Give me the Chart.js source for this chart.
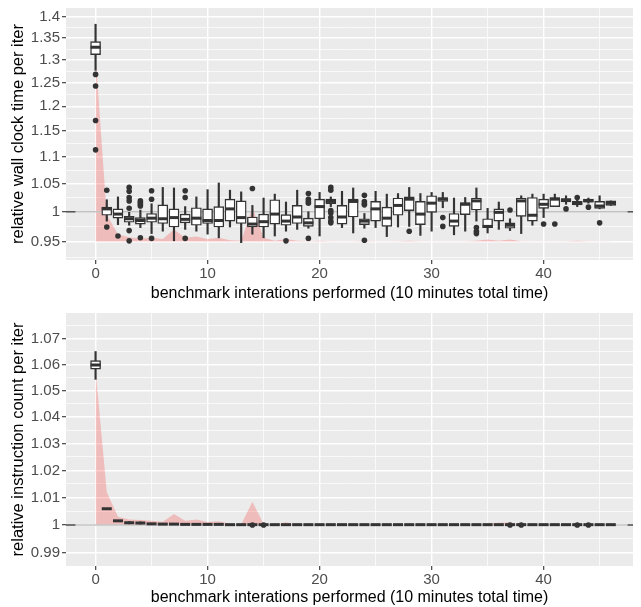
<!DOCTYPE html>
<html>
<head>
<meta charset="utf-8">
<script src="https://cdn.jsdelivr.net/npm/chart.js@4.4.1/dist/chart.umd.min.js"></script>
<style>
  body { margin: 0; background: #fff; }
  canvas { display: block; }
</style>
</head>
<body>
<canvas id="wallChart" width="641" height="303"></canvas>
<canvas id="instrChart" width="641" height="304"></canvas>
<script>
// iteration index (x)
let iterations = [0, 1, 2, 3, 4, 5, 6, 7, 8, 9, 10, 11, 12, 13, 14, 15, 16, 17, 18, 19, 20, 21, 22, 23,
  24, 25, 26, 27, 28, 29, 30, 31, 32, 33, 34, 35, 36, 37, 38, 39, 40, 41, 42, 43, 44, 45, 46];
let xTicks = [0, 10, 20, 30, 40];
let xMinorTicks = [5, 15, 25, 35, 45];

// --- relative wall clock time per iter ---
let wallTicks = [0.95, 1, 1.05, 1.1, 1.15, 1.2, 1.25, 1.3, 1.35, 1.4];
let wallLo = [1.277, 0.984, 0.978, 0.977, 0.973, 0.963, 0.967, 0.951, 0.970, 0.967, 0.962, 0.956, 0.974, 0.948,
  0.962, 0.956, 0.959, 0.967, 0.970, 0.972, 0.959, 1.009, 0.973, 0.964, 0.972, 0.973, 0.958, 0.974, 0.975,
  0.960, 0.967, 1.007, 0.961, 0.967, 0.984, 0.964, 0.970, 0.968, 0.963, 0.977, 0.990, 1.009, 1.013, 1.009,
  1.015, 1.005, 1.011];
let wallQ1 = [1.312, 0.994, 0.989, 0.982, 0.979, 0.982, 0.980, 0.974, 0.981, 0.977, 0.980, 0.974, 0.984, 0.980,
  0.974, 0.974, 0.979, 0.977, 0.980, 0.975, 0.988, 1.014, 0.979, 0.991, 0.978, 0.984, 0.975, 0.994, 1.002,
  0.978, 0.999, 1.018, 0.975, 0.995, 1.003, 0.973, 0.984, 0.972, 0.992, 0.984, 1.006, 1.009, 1.017, 1.012,
  1.017, 1.006, 1.011];
let wallMed = [1.329, 1.005, 0.996, 0.988, 0.985, 0.989, 0.988, 0.990, 0.987, 0.989, 0.985, 0.985, 1.005, 0.990,
  0.979, 0.983, 0.996, 0.984, 0.991, 0.981, 1.009, 1.018, 0.991, 1.018, 0.984, 1.005, 0.989, 1.011, 1.022,
  0.996, 1.015, 1.022, 0.984, 1.013, 1.019, 0.975, 0.999, 0.977, 1.019, 0.994, 1.013, 1.022, 1.021, 1.015,
  1.019, 1.010, 1.015];
let wallQ3 = [1.342, 1.008, 1.005, 0.992, 0.990, 0.997, 1.012, 1.005, 0.996, 1.007, 1.005, 1.009, 1.022, 1.019,
  0.991, 0.996, 1.021, 0.995, 1.011, 0.989, 1.022, 1.022, 1.011, 1.022, 0.988, 1.018, 1.008, 1.024, 1.026,
  1.018, 1.028, 1.025, 0.997, 1.016, 1.024, 0.988, 1.005, 0.981, 1.024, 1.025, 1.022, 1.025, 1.022, 1.018,
  1.022, 1.018, 1.019];
let wallHi = [1.383, 1.021, 1.026, 0.999, 1.003, 1.014, 1.043, 1.042, 1.009, 1.026, 1.039, 1.051, 1.038, 1.035,
  1.011, 1.024, 1.031, 1.017, 1.038, 1.000, 1.034, 1.026, 1.036, 1.042, 0.997, 1.036, 1.031, 1.032, 1.043,
  1.032, 1.034, 1.034, 1.024, 1.025, 1.042, 1.006, 1.017, 0.988, 1.028, 1.031, 1.031, 1.031, 1.028, 1.021,
  1.024, 1.028, 1.019];
let wallOutliers = [
  [1.268, 1.243, 1.171, 1.113], [1.038, 0.974], [0.959], [1.043, 1.036, 1.025, 1.019, 1.006, 0.968, 0.951],
  [1.019, 1.016, 1.013, 1.010, 0.956], [1.037, 1.022, 0.955], [], [], [1.037, 1.025, 0.955], [], [], [], [], [],
  [1.041], [], [], [0.951], [], [1.032, 1.022, 1.018, 1.015, 0.955], [],
  [1.043, 1.038, 1.002, 0.998, 0.990, 0.984, 0.981], [], [], [1.029, 1.018, 1.014, 1.012, 0.952], [], [], [],
  [0.967], [], [], [0.990, 0.975], [], [], [0.973, 0.967, 0.963], [], [], [1.003], [], [], [0.979], [0.979],
  [1.005], [1.025], [1.008], [0.981], []];
let wallArea = [1.31, 0.995, 0.962, 0.957, 0.955, 0.956, 0.954, 0.970, 0.956, 0.958, 0.954, 0.956, 0.952, 0.951,
  1.008, 0.956, 0.951, 0.954, 0.951, 0.9505, 0.951, 0.9505, 0.9505, 0.9505, 0.951, 0.9505, 0.9505, 0.9505,
  0.951, 0.9505, 0.9505, 0.9505, 0.9505, 0.9505, 0.951, 0.953, 0.951, 0.953, 0.9505, 0.9505, 0.9505, 0.9505,
  0.9505, 0.951, 0.9505, 0.9505, 0.9505];

// --- relative instruction count per iter ---
let instrTicks = [0.99, 1, 1.01, 1.02, 1.03, 1.04, 1.05, 1.06, 1.07];
let instrLo = [1.0543, 1.0059, 1.0015, 1.0004, 1.0003, 1.0004, 1.0003, 1.0003, 1.0002, 1.0002, 1.0002, 1.0002,
  1.0001, 1.0001, 1.0001, 1.0001, 1.0001, 1.0001, 1.0001, 1.0001, 1.0001, 1.0001, 1.0001, 1.0001, 1.0001,
  1.0001, 1.0001, 1.0001, 1.0001, 1.0001, 1.0001, 1.0001, 1.0001, 1.0001, 1.0001, 1.0001, 1.0001, 1.0001,
  1.0001, 1.0001, 1.0001, 1.0001, 1.0001, 1.0001, 1.0001, 1.0001, 1.0001];
let instrQ1 = [1.0582, 1.0059, 1.0015, 1.0008, 1.0007, 1.0004, 1.0003, 1.0003, 1.0002, 1.0002, 1.0002, 1.0002,
  1.0001, 1.0001, 1.0001, 1.0001, 1.0001, 1.0001, 1.0001, 1.0001, 1.0001, 1.0001, 1.0001, 1.0001, 1.0001,
  1.0001, 1.0001, 1.0001, 1.0001, 1.0001, 1.0001, 1.0001, 1.0001, 1.0001, 1.0001, 1.0001, 1.0001, 1.0001,
  1.0001, 1.0001, 1.0001, 1.0001, 1.0001, 1.0001, 1.0001, 1.0001, 1.0001];
let instrMed = [1.0598, 1.0059, 1.0015, 1.0008, 1.0007, 1.0004, 1.0003, 1.0003, 1.0002, 1.0002, 1.0002, 1.0002,
  1.0001, 1.0001, 1.0001, 1.0001, 1.0001, 1.0001, 1.0001, 1.0001, 1.0001, 1.0001, 1.0001, 1.0001, 1.0001,
  1.0001, 1.0001, 1.0001, 1.0001, 1.0001, 1.0001, 1.0001, 1.0001, 1.0001, 1.0001, 1.0001, 1.0001, 1.0001,
  1.0001, 1.0001, 1.0001, 1.0001, 1.0001, 1.0001, 1.0001, 1.0001, 1.0001];
let instrQ3 = [1.0615, 1.0059, 1.0015, 1.0008, 1.0007, 1.0004, 1.0003, 1.0003, 1.0002, 1.0002, 1.0002, 1.0002,
  1.0001, 1.0001, 1.0001, 1.0001, 1.0001, 1.0001, 1.0001, 1.0001, 1.0001, 1.0001, 1.0001, 1.0001, 1.0001,
  1.0001, 1.0001, 1.0001, 1.0001, 1.0001, 1.0001, 1.0001, 1.0001, 1.0001, 1.0001, 1.0001, 1.0001, 1.0001,
  1.0001, 1.0001, 1.0001, 1.0001, 1.0001, 1.0001, 1.0001, 1.0001, 1.0001];
let instrHi = [1.0650, 1.0059, 1.0015, 1.0012, 1.0011, 1.0004, 1.0003, 1.0003, 1.0002, 1.0002, 1.0002, 1.0002,
  1.0001, 1.0001, 1.0001, 1.0001, 1.0001, 1.0001, 1.0001, 1.0001, 1.0001, 1.0001, 1.0001, 1.0001, 1.0001,
  1.0001, 1.0001, 1.0001, 1.0001, 1.0001, 1.0001, 1.0001, 1.0001, 1.0001, 1.0001, 1.0001, 1.0001, 1.0001,
  1.0001, 1.0001, 1.0001, 1.0001, 1.0001, 1.0001, 1.0001, 1.0001, 1.0001];
let instrOutliers = [[], [], [], [], [], [], [], [], [], [], [], [], [], [], [1.0], [1.0], [], [], [], [], [], [],
  [], [], [], [], [], [], [], [], [], [], [], [], [], [], [], [1.0], [1.0], [], [], [], [], [1.0], [1.0], [], []];
let instrArea = [1.058, 1.012, 1.003, 1.002, 1.0018, 1.0015, 1.0012, 1.004, 1.0015, 1.002, 1.0011, 1.0013, 1.0004,
  1.0002, 1.0085, 1.0003, 1.0002, 1.001, 1.0002, 1.0001, 1.0001, 1.0001, 1.0001, 1.0001, 1.0001, 1.0001, 1.0001,
  1.0001, 1.0001, 1.0001, 1.0001, 1.0001, 1.0001, 1.0001, 1.0001, 1.0006, 1.0008, 1.0009, 1.0002, 1.0001,
  1.0001, 1.0001, 1.0001, 1.0001, 1.0001, 1.0001, 1.0001];

// reference line at 1, with the darker stubs at both panel edges
let refLevel = 1;
let refStubX = [-2.7, -1.8, 47.5, 48.2];

Chart.defaults.font.family = '"Liberation Sans", Arial, Helvetica, sans-serif';
Chart.defaults.animation = false;

const X_MIN = -2.64;
const X_MAX = 47.98;

const panelBg = {
  id: 'panelBg',
  beforeDraw(chart) {
    const { ctx, chartArea: a } = chart;
    ctx.save();
    ctx.fillStyle = '#ebebeb';
    ctx.fillRect(a.left, a.top, a.right - a.left, a.bottom - a.top);
    ctx.restore();
  }
};

function fmt(v) {
  return String(+v.toFixed(2));
}

// major ticks plus minor ones half way between (in log space)
function yTickList(major, min, max) {
  let d = major[1] - major[0];
  let all = [major[0] - d].concat(major, [major[major.length - 1] + d]);
  let list = major.map(v => ({ value: v }));
  for (let i = 0; i < all.length - 1; i++) {
    let m = Math.sqrt(all[i] * all[i + 1]);
    if (m > min && m < max) list.push({ value: m, minor: true });
  }
  return list.sort((a, b) => a.value - b.value);
}

function xTickList() {
  let list = xTicks.map(v => ({ value: v }));
  xMinorTicks.forEach(v => list.push({ value: v, minor: true }));
  return list.sort((a, b) => a.value - b.value);
}

const gridOpts = {
  color: '#ffffff',
  lineWidth: (c) => (c.tick && c.tick.minor ? 0.7 : 1.4),
  tickColor: (c) => (c.tick && c.tick.minor ? 'rgba(0,0,0,0)' : '#333333'),
  tickWidth: 1.1,
  tickLength: 4,
  drawTicks: true,
  offset: false
};

function boxPanel(canvasId, p) {
  const pts = (vals) => iterations.map((x, i) => ({ x: x, y: vals[i] }));
  const spans = (a, b) => iterations.map((x, i) => ({ x: x, y: [a[i], b[i]] }));
  let outs = [];
  p.outliers.forEach((list, i) => list.forEach(v => outs.push({ x: iterations[i], y: v })));

  return new Chart(document.getElementById(canvasId), {
    type: 'bar',
    data: {
      datasets: [
        {
          type: 'line',
          data: pts(p.area),
          fill: { value: p.base },
          backgroundColor: 'rgba(255,0,0,0.2)',
          borderWidth: 0,
          pointRadius: 0,
          tension: 0,
          order: 10
        },
        {
          type: 'line',
          data: [{ x: X_MIN, y: refLevel }, { x: X_MAX, y: refLevel }],
          borderColor: '#c2c2c2',
          borderWidth: 1.5,
          pointRadius: 0,
          fill: false,
          order: 9
        },
        {
          type: 'line',
          data: [{ x: refStubX[0], y: refLevel }, { x: refStubX[1], y: refLevel }, { x: 20, y: null },
            { x: refStubX[2], y: refLevel }, { x: refStubX[3], y: refLevel }],
          borderColor: '#555555',
          borderWidth: 1.5,
          pointRadius: 0,
          spanGaps: false,
          fill: false,
          order: 8
        },
        {
          type: 'bar',
          data: spans(p.lo, p.hi),
          backgroundColor: '#333333',
          barThickness: 1.5,
          grouped: false,
          order: 5
        },
        {
          type: 'bar',
          data: spans(p.q1, p.q3),
          backgroundColor: '#ffffff',
          borderColor: '#333333',
          borderWidth: 1.4,
          borderSkipped: false,
          barThickness: 10,
          grouped: false,
          order: 4
        },
        {
          type: 'scatter',
          data: pts(p.med),
          pointStyle: 'line',
          pointRadius: 5,
          pointHoverRadius: 5,
          pointBorderColor: '#333333',
          pointBorderWidth: 3,
          order: 3
        },
        {
          type: 'scatter',
          data: outs,
          pointRadius: 2.8,
          pointHoverRadius: 2.8,
          pointBackgroundColor: '#333333',
          pointBorderWidth: 0,
          order: 2
        }
      ]
    },
    options: {
      responsive: false,
      animation: false,
      events: [],
      layout: { padding: { top: p.padTop, left: 0, right: 0, bottom: 0 } },
      plugins: { legend: { display: false }, tooltip: { enabled: false } },
      scales: {
        x: {
          type: 'linear',
          min: X_MIN,
          max: X_MAX,
          offset: false,
          grid: gridOpts,
          border: { display: false },
          afterBuildTicks: (s) => { s.ticks = xTickList(); },
          afterFit: (s) => {
            s.height = p.xHeight;
            s.paddingLeft = 0;
            s.paddingRight = 0;
          },
          ticks: {
            autoSkip: false,
            maxRotation: 0,
            padding: 1,
            color: '#4d4d4d',
            font: { size: 15 },
            callback: (v, i, t) => (t[i].minor ? '' : String(v))
          },
          title: {
            display: true,
            text: 'benchmark interations performed (10 minutes total time)',
            color: '#000000',
            font: { size: 16 },
            padding: { top: 2, bottom: 0 }
          }
        },
        y: {
          type: 'logarithmic',
          min: p.yMin,
          max: p.yMax,
          beginAtZero: false,
          grid: gridOpts,
          border: { display: false },
          afterBuildTicks: (s) => { s.ticks = yTickList(p.ticks, p.yMin, p.yMax); },
          afterFit: (s) => {
            s.width = 66;
            s.paddingTop = 0;
            s.paddingBottom = 0;
          },
          ticks: {
            autoSkip: false,
            padding: 2,
            color: '#4d4d4d',
            font: { size: 15 },
            callback: (v, i, t) => (t[i].minor ? '' : fmt(v))
          },
          title: {
            display: true,
            text: p.title,
            color: '#000000',
            font: { size: 16.5 },
            padding: { top: 9, bottom: 0 }
          }
        }
      }
    },
    plugins: [panelBg]
  });
}

boxPanel('wallChart', {
  title: 'relative wall clock time per iter',
  ticks: wallTicks, yMin: 0.9216, yMax: 1.4223, base: 0.95,
  lo: wallLo, q1: wallQ1, med: wallMed, q3: wallQ3, hi: wallHi,
  outliers: wallOutliers, area: wallArea,
  padTop: 5, xHeight: 43
});

boxPanel('instrChart', {
  title: 'relative instruction count per iter',
  ticks: instrTicks, yMin: 0.9852, yMax: 1.0800, base: 1,
  lo: instrLo, q1: instrQ1, med: instrMed, q3: instrQ3, hi: instrHi,
  outliers: instrOutliers, area: instrArea,
  padTop: 10, xHeight: 41
});
</script>
</body>
</html>
